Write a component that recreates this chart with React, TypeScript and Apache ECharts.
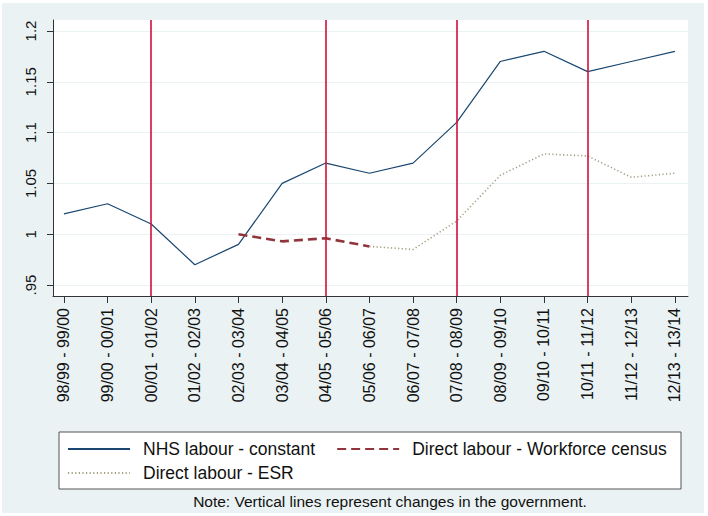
import React, { useEffect, useRef } from "react";
import * as echarts from "echarts";

const categories = [
  "98/99 - 99/00", "99/00 - 00/01", "00/01 - 01/02", "01/02 - 02/03", "02/03 - 03/04",
  "03/04 - 04/05", "04/05 - 05/06", "05/06 - 06/07", "06/07 - 07/08", "07/08 - 08/09",
  "08/09 - 09/10", "09/10 - 10/11", "10/11 - 11/12", "11/12 - 12/13", "12/13 - 13/14",
];
const nhsConstant = [1.02, 1.03, 1.01, 0.97, 0.99, 1.05, 1.07, 1.06, 1.07, 1.11, 1.17, 1.18, 1.16, 1.17, 1.18];
const censusStart = 4;
const workforceCensus = [1.0, 0.993, 0.996, 0.988];
const esrStart = 7;
const directESR = [0.988, 0.985, 1.013, 1.058, 1.079, 1.077, 1.056, 1.06];
const governmentChanges = [2, 6, 9, 12];
const yTicks = [0.95, 1, 1.05, 1.1, 1.15, 1.2];
const noteText = "Note: Vertical lines represent changes in the government.";

const FONT = "Liberation Sans, Arial, Helvetica, sans-serif";

export default function App() {
  const ref = useRef<HTMLDivElement>(null);
  useEffect(() => {
    if (!ref.current) return;
    const chart = echarts.init(ref.current, null, { renderer: "svg" });
    const xTicks = categories.map((_, i) => i);
    const legendCommon = {
      left: 67, padding: 0, orient: "horizontal",
      itemWidth: 62, itemHeight: 14, itemGap: 21,
      itemStyle: { opacity: 0 },
      textStyle: { fontSize: 17.5, fontFamily: FONT, color: "#111", padding: [0, 0, 0, 8] },
      z: 20,
    };
    const option: any = {
      animation: false,
      backgroundColor: "#ffffff",
      graphic: [
        { type: "rect", z: -10, silent: true, shape: { x: 2, y: 3, width: 702, height: 510 }, style: { fill: "#eaf2f3" } },
        { type: "rect", z: 5, silent: true, shape: { x: 59, y: 432, width: 622, height: 57 }, style: { fill: "#ffffff", stroke: "#555555", lineWidth: 1 } },
        {
          type: "text", z: 10, x: 390, y: 501,
          style: { text: noteText, fontSize: 15.5, fontFamily: FONT, fill: "#111", textAlign: "center", textVerticalAlign: "middle" },
        },
      ],
      grid: { left: 53, top: 20, width: 635, height: 276, show: true, backgroundColor: "#ffffff", borderWidth: 0 },
      xAxis: {
        type: "value",
        min: -0.25,
        max: 14.3,
        axisLine: { show: true, onZero: false, lineStyle: { color: "#333", width: 1 } },
        axisTick: { show: true, length: 7, customValues: xTicks, lineStyle: { color: "#333" } },
        axisLabel: {
          customValues: xTicks,
          rotate: 90,
          margin: 12,
          fontSize: 16,
          fontFamily: FONT,
          color: "#111",
          formatter: (v: number) => categories[Math.round(v)] ?? "",
        },
        splitLine: { show: false },
      },
      yAxis: {
        type: "value",
        min: 0.9392,
        max: 1.2108,
        axisLine: { show: true, onZero: false, lineStyle: { color: "#333", width: 1 } },
        axisTick: { show: true, length: 6, customValues: yTicks, lineStyle: { color: "#333" } },
        axisLabel: {
          customValues: yTicks,
          rotate: 90,
          margin: 15,
          fontSize: 15,
          fontFamily: FONT,
          color: "#111",
          formatter: (v: number) => {
            const s = String(Math.round(v * 100) / 100);
            return s.startsWith("0.") ? s.slice(1) : s;
          },
        },
        splitLine: { show: true, lineStyle: { color: "#eaf2f3", width: 1.2 } },
      },
      legend: [
        { ...legendCommon, data: ["NHS labour - constant", "Direct labour - Workforce census"], top: 440 },
        { ...legendCommon, data: ["Direct labour - ESR"], top: 464 },
      ],
      series: [
        {
          name: "NHS labour - constant",
          type: "line",
          symbol: "none",
          data: nhsConstant.map((v, i) => [i, v]),
          lineStyle: { color: "#1a476f", width: 1.2 },
          itemStyle: { color: "#1a476f" },
          z: 3,
          markLine: {
            silent: true,
            symbol: "none",
            label: { show: false },
            lineStyle: { color: "#d0103a", width: 1.6, type: "solid" },
            data: governmentChanges.map((x) => ({ xAxis: x })),
          },
        },
        {
          name: "Direct labour - Workforce census",
          type: "line",
          symbol: "none",
          data: workforceCensus.map((v, i) => [censusStart + i, v]),
          lineStyle: { color: "#90353b", width: 2.6, type: [9, 5] },
          itemStyle: { color: "#90353b" },
          z: 4,
        },
        {
          name: "Direct labour - ESR",
          type: "line",
          symbol: "none",
          data: directESR.map((v, i) => [esrStart + i, v]),
          lineStyle: { color: "#a39e80", width: 1.6, type: [1.2, 2.4] },
          itemStyle: { color: "#a39e80" },
          z: 4,
        },
      ],
    };
    chart.setOption(option);
    return () => chart.dispose();
  }, []);
  return <div ref={ref} style={{ position: "fixed", left: 0, top: 0, width: 708, height: 516 }} />;
}
